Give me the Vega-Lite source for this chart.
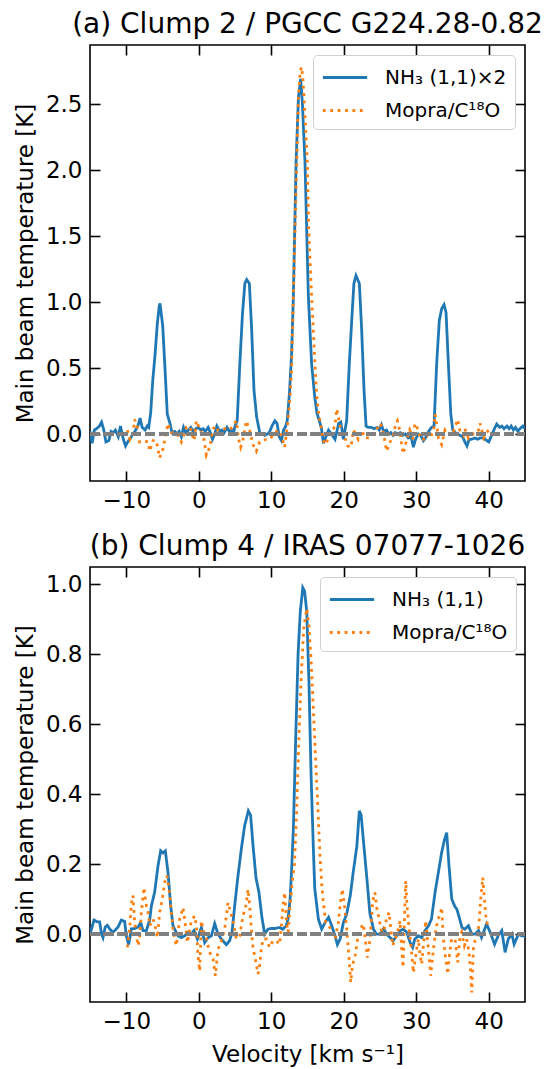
{
"$schema": "https://vega.github.io/schema/vega-lite/v6.json",
"background": "white",
"padding": {"left": 13, "top": 10, "right": 0, "bottom": 0},
"config": {
  "font": "DejaVu Sans",
  "view": {"stroke": "black", "strokeWidth": 1.6},
  "axis": {"domain": false, "grid": false, "ticks": true, "tickColor": "black", "tickWidth": 1.6, "tickSize": -10,
           "labelFont": "DejaVu Sans", "labelFontSize": 23, "labelColor": "black", "labelPadding": 18,
           "titleFont": "DejaVu Sans", "titleFontSize": 23, "titleFontWeight": "normal", "titleColor": "black"},
  "title": {"font": "DejaVu Sans", "fontSize": 28, "fontWeight": "normal", "color": "black", "anchor": "middle", "frame": "group", "offset": 5, "baseline": "alphabetic"},
  "legend": {"labelFont": "DejaVu Sans", "labelFontSize": 20, "labelColor": "black", "symbolType": "M-1,0H2.5", "symbolSize": 640, "symbolStrokeWidth": 2.8,
             "labelOffset": 35, "rowPadding": 8, "padding": 8, "strokeColor": "#d0d0d0", "fillColor": "rgba(255,255,255,0.85)", "cornerRadius": 4}
},
"spacing": 19,
"resolve": {"scale": {"x": "independent", "y": "independent", "color": "independent", "strokeDash": "independent"}, "legend": {"color": "independent", "strokeDash": "independent"}},
"vconcat": [
{
  "width": 435, "height": 436,
  "title": "(a) Clump 2 / PGCC G224.28-0.82",
  "data": {"values": [
{"v":-15,"T":0.02,"s":"n"},{"v":-14.7,"T":-0.07,"s":"n"},{"v":-14.4,"T":0.03,"s":"n"},{"v":-14.1,"T":0.04,"s":"n"},{"v":-13.7,"T":0.06,"s":"n"},{"v":-13.4,"T":0.09,"s":"n"},{"v":-13.1,"T":0.03,"s":"n"},{"v":-12.8,"T":-0.06,"s":"n"},{"v":-12.4,"T":-0.05,"s":"n"},{"v":-12.1,"T":0.02,"s":"n"},{"v":-11.8,"T":0.01,"s":"n"},{"v":-11.5,"T":0.03,"s":"n"},{"v":-11.1,"T":-0.02,"s":"n"},{"v":-10.8,"T":0.06,"s":"n"},{"v":-10.4,"T":-0.04,"s":"n"},{"v":-10.1,"T":-0.09,"s":"n"},{"v":-9.8,"T":-0.06,"s":"n"},{"v":-9.4,"T":-0.03,"s":"n"},{"v":-9.1,"T":0.0,"s":"n"},{"v":-8.8,"T":0.02,"s":"n"},{"v":-8.4,"T":0.06,"s":"n"},{"v":-8.1,"T":0.12,"s":"n"},{"v":-7.8,"T":0.05,"s":"n"},{"v":-7.4,"T":0.03,"s":"n"},{"v":-7.1,"T":0.06,"s":"n"},{"v":-6.9,"T":0.05,"s":"n"},{"v":-6.63,"T":0.16,"s":"n"},{"v":-6.35,"T":0.4,"s":"n"},{"v":-6.03,"T":0.6,"s":"n"},{"v":-5.71,"T":0.84,"s":"n"},{"v":-5.45,"T":0.97,"s":"n"},{"v":-5.34,"T":0.99,"s":"n"},{"v":-5.15,"T":0.9,"s":"n"},{"v":-4.97,"T":0.82,"s":"n"},{"v":-4.66,"T":0.5,"s":"n"},{"v":-4.34,"T":0.15,"s":"n"},{"v":-3.97,"T":0.08,"s":"n"},{"v":-3.7,"T":0.01,"s":"n"},{"v":-3.3,"T":0.02,"s":"n"},{"v":-3.0,"T":0.0,"s":"n"},{"v":-2.7,"T":0.02,"s":"n"},{"v":-2.4,"T":-0.02,"s":"n"},{"v":-2.1,"T":0.05,"s":"n"},{"v":-1.8,"T":0.01,"s":"n"},{"v":-1.4,"T":0.03,"s":"n"},{"v":-1.1,"T":0.05,"s":"n"},{"v":-0.8,"T":0.02,"s":"n"},{"v":-0.4,"T":0.04,"s":"n"},{"v":-0.1,"T":0.05,"s":"n"},{"v":0.3,"T":0.03,"s":"n"},{"v":0.6,"T":0.04,"s":"n"},{"v":0.9,"T":0.02,"s":"n"},{"v":1.3,"T":0.05,"s":"n"},{"v":1.6,"T":0.01,"s":"n"},{"v":1.9,"T":-0.04,"s":"n"},{"v":2.2,"T":0.0,"s":"n"},{"v":2.5,"T":0.06,"s":"n"},{"v":2.9,"T":0.02,"s":"n"},{"v":3.2,"T":0.03,"s":"n"},{"v":3.5,"T":0.01,"s":"n"},{"v":3.9,"T":0.05,"s":"n"},{"v":4.2,"T":0.02,"s":"n"},{"v":4.5,"T":0.03,"s":"n"},{"v":4.8,"T":0.01,"s":"n"},{"v":5.0,"T":0.06,"s":"n"},{"v":5.3,"T":0.1,"s":"n"},{"v":5.67,"T":0.535,"s":"n"},{"v":6.03,"T":0.91,"s":"n"},{"v":6.36,"T":1.14,"s":"n"},{"v":6.61,"T":1.17,"s":"n"},{"v":6.98,"T":1.14,"s":"n"},{"v":7.3,"T":0.79,"s":"n"},{"v":7.62,"T":0.33,"s":"n"},{"v":7.98,"T":0.13,"s":"n"},{"v":8.45,"T":0.0,"s":"n"},{"v":8.8,"T":0.0,"s":"n"},{"v":9.1,"T":-0.01,"s":"n"},{"v":9.5,"T":0.0,"s":"n"},{"v":9.8,"T":0.02,"s":"n"},{"v":10.1,"T":0.06,"s":"n"},{"v":10.5,"T":0.1,"s":"n"},{"v":10.8,"T":0.08,"s":"n"},{"v":11.1,"T":-0.02,"s":"n"},{"v":11.4,"T":-0.05,"s":"n"},{"v":11.7,"T":0.03,"s":"n"},{"v":12.0,"T":0.06,"s":"n"},{"v":12.2,"T":0.1,"s":"n"},{"v":12.5,"T":0.3,"s":"n"},{"v":12.8,"T":0.6,"s":"n"},{"v":13.05,"T":1.04,"s":"n"},{"v":13.42,"T":2.05,"s":"n"},{"v":13.75,"T":2.55,"s":"n"},{"v":14.06,"T":2.69,"s":"n"},{"v":14.3,"T":2.5,"s":"n"},{"v":14.66,"T":2.05,"s":"n"},{"v":15.12,"T":1.04,"s":"n"},{"v":15.57,"T":0.53,"s":"n"},{"v":16.0,"T":0.28,"s":"n"},{"v":16.3,"T":0.16,"s":"n"},{"v":16.9,"T":0.05,"s":"n"},{"v":17.2,"T":-0.07,"s":"n"},{"v":17.4,"T":-0.04,"s":"n"},{"v":17.9,"T":0.03,"s":"n"},{"v":18.3,"T":0.0,"s":"n"},{"v":18.8,"T":-0.04,"s":"n"},{"v":19.3,"T":0.08,"s":"n"},{"v":19.6,"T":0.09,"s":"n"},{"v":19.95,"T":-0.04,"s":"n"},{"v":20.4,"T":0.1,"s":"n"},{"v":20.77,"T":0.535,"s":"n"},{"v":21.1,"T":0.86,"s":"n"},{"v":21.4,"T":1.14,"s":"n"},{"v":21.69,"T":1.2,"s":"n"},{"v":22.15,"T":1.14,"s":"n"},{"v":22.47,"T":0.79,"s":"n"},{"v":22.8,"T":0.33,"s":"n"},{"v":23.08,"T":0.06,"s":"n"},{"v":23.4,"T":0.05,"s":"n"},{"v":23.8,"T":0.05,"s":"n"},{"v":24.2,"T":0.04,"s":"n"},{"v":24.6,"T":0.05,"s":"n"},{"v":24.9,"T":0.03,"s":"n"},{"v":25.2,"T":0.07,"s":"n"},{"v":25.5,"T":0.02,"s":"n"},{"v":25.9,"T":0.03,"s":"n"},{"v":26.2,"T":0.0,"s":"n"},{"v":26.5,"T":0.01,"s":"n"},{"v":26.8,"T":-0.01,"s":"n"},{"v":27.1,"T":0.01,"s":"n"},{"v":27.4,"T":0.0,"s":"n"},{"v":27.8,"T":0.01,"s":"n"},{"v":28.1,"T":-0.01,"s":"n"},{"v":28.5,"T":0.0,"s":"n"},{"v":28.9,"T":-0.03,"s":"n"},{"v":29.3,"T":-0.02,"s":"n"},{"v":29.6,"T":-0.1,"s":"n"},{"v":29.9,"T":-0.04,"s":"n"},{"v":30.3,"T":0.0,"s":"n"},{"v":30.6,"T":-0.01,"s":"n"},{"v":31.0,"T":-0.05,"s":"n"},{"v":31.4,"T":-0.02,"s":"n"},{"v":31.7,"T":0.02,"s":"n"},{"v":32.1,"T":0.05,"s":"n"},{"v":32.45,"T":0.06,"s":"n"},{"v":32.82,"T":0.535,"s":"n"},{"v":33.18,"T":0.86,"s":"n"},{"v":33.51,"T":0.95,"s":"n"},{"v":33.83,"T":0.98,"s":"n"},{"v":34.11,"T":0.92,"s":"n"},{"v":34.43,"T":0.535,"s":"n"},{"v":34.76,"T":0.156,"s":"n"},{"v":35.03,"T":0.03,"s":"n"},{"v":35.4,"T":0.01,"s":"n"},{"v":35.7,"T":0.0,"s":"n"},{"v":36.0,"T":-0.01,"s":"n"},{"v":36.4,"T":-0.02,"s":"n"},{"v":36.7,"T":-0.06,"s":"n"},{"v":37.0,"T":-0.09,"s":"n"},{"v":37.3,"T":-0.04,"s":"n"},{"v":37.6,"T":-0.04,"s":"n"},{"v":38.1,"T":-0.03,"s":"n"},{"v":38.5,"T":-0.04,"s":"n"},{"v":38.8,"T":-0.03,"s":"n"},{"v":39.2,"T":-0.03,"s":"n"},{"v":39.5,"T":-0.04,"s":"n"},{"v":40.0,"T":-0.06,"s":"n"},{"v":40.4,"T":-0.01,"s":"n"},{"v":40.7,"T":0.03,"s":"n"},{"v":41.1,"T":0.075,"s":"n"},{"v":41.5,"T":0.05,"s":"n"},{"v":41.8,"T":0.06,"s":"n"},{"v":42.1,"T":0.04,"s":"n"},{"v":42.5,"T":0.06,"s":"n"},{"v":42.8,"T":0.04,"s":"n"},{"v":43.1,"T":0.06,"s":"n"},{"v":43.4,"T":0.03,"s":"n"},{"v":43.7,"T":0.05,"s":"n"},{"v":44.0,"T":0.02,"s":"n"},{"v":44.3,"T":0.04,"s":"n"},{"v":44.7,"T":0.06,"s":"n"},{"v":45.0,"T":0.04,"s":"n"},
{"v":-9.85,"T":0.03,"s":"m"},{"v":-9.5,"T":-0.04,"s":"m"},{"v":-9.07,"T":0.0,"s":"m"},{"v":-8.84,"T":0.11,"s":"m"},{"v":-8.47,"T":0.05,"s":"m"},{"v":-8.15,"T":-0.06,"s":"m"},{"v":-7.69,"T":-0.05,"s":"m"},{"v":-7.0,"T":-0.06,"s":"m"},{"v":-6.77,"T":-0.13,"s":"m"},{"v":-6.31,"T":-0.05,"s":"m"},{"v":-5.85,"T":-0.05,"s":"m"},{"v":-5.39,"T":-0.18,"s":"m"},{"v":-4.93,"T":-0.11,"s":"m"},{"v":-4.24,"T":0.08,"s":"m"},{"v":-3.78,"T":0.01,"s":"m"},{"v":-3.09,"T":0.01,"s":"m"},{"v":-2.4,"T":-0.06,"s":"m"},{"v":-1.71,"T":0.05,"s":"m"},{"v":-1.25,"T":0.06,"s":"m"},{"v":-0.65,"T":-0.05,"s":"m"},{"v":-0.33,"T":0.1,"s":"m"},{"v":0.13,"T":0.04,"s":"m"},{"v":0.72,"T":-0.04,"s":"m"},{"v":1.05,"T":-0.16,"s":"m"},{"v":1.51,"T":-0.1,"s":"m"},{"v":1.97,"T":0.04,"s":"m"},{"v":2.43,"T":0.06,"s":"m"},{"v":2.89,"T":-0.01,"s":"m"},{"v":3.35,"T":0.04,"s":"m"},{"v":3.8,"T":0.04,"s":"m"},{"v":4.26,"T":0.03,"s":"m"},{"v":4.72,"T":0.06,"s":"m"},{"v":5.18,"T":0.1,"s":"m"},{"v":5.5,"T":-0.04,"s":"m"},{"v":5.78,"T":-0.1,"s":"m"},{"v":6.1,"T":-0.04,"s":"m"},{"v":6.56,"T":0.1,"s":"m"},{"v":7.02,"T":0.03,"s":"m"},{"v":7.48,"T":-0.08,"s":"m"},{"v":7.94,"T":-0.13,"s":"m"},{"v":8.4,"T":-0.06,"s":"m"},{"v":8.86,"T":-0.05,"s":"m"},{"v":9.32,"T":-0.04,"s":"m"},{"v":9.78,"T":-0.04,"s":"m"},{"v":10.24,"T":-0.01,"s":"m"},{"v":10.93,"T":0.03,"s":"m"},{"v":11.39,"T":-0.01,"s":"m"},{"v":11.85,"T":-0.1,"s":"m"},{"v":12.31,"T":0.1,"s":"m"},{"v":12.59,"T":0.28,"s":"m"},{"v":12.82,"T":0.53,"s":"m"},{"v":13.05,"T":1.04,"s":"m"},{"v":13.28,"T":1.545,"s":"m"},{"v":13.51,"T":2.05,"s":"m"},{"v":13.74,"T":2.555,"s":"m"},{"v":14.0,"T":2.75,"s":"m"},{"v":14.2,"T":2.78,"s":"m"},{"v":14.35,"T":2.7,"s":"m"},{"v":14.52,"T":2.55,"s":"m"},{"v":14.98,"T":2.05,"s":"m"},{"v":15.16,"T":1.55,"s":"m"},{"v":15.57,"T":1.04,"s":"m"},{"v":15.8,"T":0.79,"s":"m"},{"v":16.03,"T":0.53,"s":"m"},{"v":16.26,"T":0.3,"s":"m"},{"v":16.49,"T":0.17,"s":"m"},{"v":16.87,"T":0.05,"s":"m"},{"v":17.19,"T":-0.05,"s":"m"},{"v":17.5,"T":-0.08,"s":"m"},{"v":18.1,"T":0.0,"s":"m"},{"v":18.8,"T":0.06,"s":"m"},{"v":19.03,"T":0.19,"s":"m"},{"v":19.26,"T":0.13,"s":"m"},{"v":19.7,"T":0.0,"s":"m"},{"v":20.18,"T":-0.03,"s":"m"},{"v":20.55,"T":-0.09,"s":"m"},{"v":21.0,"T":-0.1,"s":"m"},{"v":21.33,"T":0.03,"s":"m"},{"v":22.0,"T":-0.04,"s":"m"},{"v":22.5,"T":0.03,"s":"m"},{"v":22.9,"T":-0.03,"s":"m"},{"v":23.6,"T":-0.03,"s":"m"},{"v":24.1,"T":0.0,"s":"m"},{"v":24.5,"T":0.03,"s":"m"},{"v":25.0,"T":0.08,"s":"m"},{"v":25.3,"T":0.05,"s":"m"},{"v":25.7,"T":-0.06,"s":"m"},{"v":25.9,"T":-0.13,"s":"m"},{"v":26.4,"T":-0.06,"s":"m"},{"v":26.8,"T":-0.01,"s":"m"},{"v":27.2,"T":0.08,"s":"m"},{"v":27.4,"T":0.1,"s":"m"},{"v":27.8,"T":0.01,"s":"m"},{"v":28.0,"T":-0.09,"s":"m"},{"v":28.2,"T":-0.15,"s":"m"},{"v":28.7,"T":-0.04,"s":"m"},{"v":29.1,"T":0.03,"s":"m"},{"v":29.6,"T":-0.04,"s":"m"},{"v":29.8,"T":0.08,"s":"m"},{"v":30.3,"T":0.03,"s":"m"},{"v":30.5,"T":-0.03,"s":"m"},{"v":31.0,"T":-0.04,"s":"m"},{"v":31.4,"T":0.0,"s":"m"},{"v":31.9,"T":-0.03,"s":"m"},{"v":32.4,"T":0.03,"s":"m"},{"v":32.6,"T":0.15,"s":"m"},{"v":32.8,"T":0.08,"s":"m"},{"v":33.05,"T":-0.03,"s":"m"},{"v":33.5,"T":-0.08,"s":"m"},{"v":33.97,"T":0.03,"s":"m"},{"v":34.4,"T":0.0,"s":"m"},{"v":34.9,"T":-0.01,"s":"m"},{"v":35.35,"T":0.05,"s":"m"},{"v":35.7,"T":0.11,"s":"m"},{"v":36.0,"T":0.03,"s":"m"},{"v":36.5,"T":-0.01,"s":"m"},{"v":36.7,"T":0.04,"s":"m"},{"v":37.2,"T":-0.03,"s":"m"},{"v":37.65,"T":0.0,"s":"m"},{"v":38.1,"T":0.0,"s":"m"},{"v":38.6,"T":0.03,"s":"m"},{"v":38.8,"T":0.08,"s":"m"},{"v":39.3,"T":-0.03,"s":"m"},{"v":39.7,"T":0.01,"s":"m"},{"v":40.0,"T":0.03,"s":"m"}
  ]},
  "layer": [
    {"mark": {"type": "line", "strokeWidth": 2.8, "clip": true},
     "encoding": {
       "x": {"field": "v", "type": "quantitative", "scale": {"domain": [-15, 45], "nice": false, "zero": false}, "axis": {"orient": "bottom", "values": [-10, 0, 10, 20, 30, 40], "title": null}},
       "y": {"field": "T", "type": "quantitative", "scale": {"domain": [-0.356, 2.947], "nice": false, "zero": false}, "axis": {"orient": "left", "values": [0, 0.5, 1, 1.5, 2, 2.5], "format": ".1f", "title": "Main beam temperature [K]", "titlePadding": 8}},
       "color": {"field": "s", "type": "nominal", "scale": {"domain": ["n", "m"], "range": ["#1f77b4", "#ff7f0e"]},
                 "legend": {"orient": "none", "legendX": 223, "legendY": 10, "title": null, "labelExpr": "datum.value == 'n' ? 'NH₃ (1,1)×2' : 'Mopra/C¹⁸O'"}},
       "strokeDash": {"field": "s", "type": "nominal", "scale": {"domain": ["n", "m"], "range": [[1, 0], [2.8, 4.6]]},
                 "legend": {"orient": "none", "legendX": 223, "legendY": 10, "title": null, "labelExpr": "datum.value == 'n' ? 'NH₃ (1,1)×2' : 'Mopra/C¹⁸O'"}}
     }},
    {"mark": {"type": "rule", "color": "#808080", "strokeWidth": 2.6, "strokeDash": [9.6, 4.2]},
     "encoding": {
       "x": {"datum": -15, "type": "quantitative", "axis": {"orient": "top", "labels": false, "title": null, "values": [-10, 0, 10, 20, 30, 40]}},
       "x2": {"datum": 45},
       "y": {"datum": 0, "type": "quantitative", "axis": {"orient": "right", "labels": false, "title": null, "values": [0, 0.5, 1, 1.5, 2, 2.5]}}
     }}
  ],
  "resolve": {"axis": {"x": "independent", "y": "independent"}}
},
{
  "width": 435, "height": 435,
  "title": "(b) Clump 4 / IRAS 07077-1026",
  "data": {"values": [
{"v":-15,"T":0.0,"s":"n"},{"v":-14.8,"T":0.014,"s":"n"},{"v":-14.45,"T":0.04,"s":"n"},{"v":-14.0,"T":0.035,"s":"n"},{"v":-13.67,"T":0.035,"s":"n"},{"v":-13.4,"T":0.0,"s":"n"},{"v":-13.21,"T":-0.01,"s":"n"},{"v":-12.9,"T":0.02,"s":"n"},{"v":-12.6,"T":0.025,"s":"n"},{"v":-12.29,"T":0.015,"s":"n"},{"v":-11.83,"T":0.005,"s":"n"},{"v":-11.14,"T":0.02,"s":"n"},{"v":-10.68,"T":0.04,"s":"n"},{"v":-10.22,"T":0.036,"s":"n"},{"v":-9.99,"T":-0.005,"s":"n"},{"v":-9.67,"T":-0.03,"s":"n"},{"v":-9.3,"T":0.015,"s":"n"},{"v":-8.84,"T":0.016,"s":"n"},{"v":-8.38,"T":0.02,"s":"n"},{"v":-8.01,"T":0.033,"s":"n"},{"v":-7.69,"T":0.01,"s":"n"},{"v":-7.23,"T":0.01,"s":"n"},{"v":-6.77,"T":0.04,"s":"n"},{"v":-6.54,"T":0.08,"s":"n"},{"v":-6.08,"T":0.12,"s":"n"},{"v":-5.62,"T":0.195,"s":"n"},{"v":-5.25,"T":0.238,"s":"n"},{"v":-4.93,"T":0.232,"s":"n"},{"v":-4.61,"T":0.238,"s":"n"},{"v":-4.24,"T":0.176,"s":"n"},{"v":-3.87,"T":0.08,"s":"n"},{"v":-3.55,"T":0.024,"s":"n"},{"v":-3.23,"T":0.01,"s":"n"},{"v":-2.86,"T":-0.005,"s":"n"},{"v":-2.4,"T":-0.01,"s":"n"},{"v":-1.94,"T":-0.005,"s":"n"},{"v":-1.48,"T":0.005,"s":"n"},{"v":-1.03,"T":0.0,"s":"n"},{"v":-0.66,"T":0.01,"s":"n"},{"v":-0.19,"T":-0.014,"s":"n"},{"v":0.36,"T":0.019,"s":"n"},{"v":0.82,"T":-0.024,"s":"n"},{"v":1.28,"T":-0.01,"s":"n"},{"v":1.74,"T":-0.005,"s":"n"},{"v":2.2,"T":0.03,"s":"n"},{"v":2.66,"T":0.0,"s":"n"},{"v":3.11,"T":-0.014,"s":"n"},{"v":3.8,"T":-0.03,"s":"n"},{"v":4.26,"T":-0.019,"s":"n"},{"v":4.59,"T":0.005,"s":"n"},{"v":4.95,"T":0.08,"s":"n"},{"v":5.41,"T":0.166,"s":"n"},{"v":5.87,"T":0.243,"s":"n"},{"v":6.33,"T":0.31,"s":"n"},{"v":6.84,"T":0.352,"s":"n"},{"v":7.15,"T":0.34,"s":"n"},{"v":7.5,"T":0.25,"s":"n"},{"v":7.9,"T":0.16,"s":"n"},{"v":8.3,"T":0.12,"s":"n"},{"v":8.7,"T":0.05,"s":"n"},{"v":9.09,"T":0.0,"s":"n"},{"v":9.55,"T":0.014,"s":"n"},{"v":10.0,"T":0.016,"s":"n"},{"v":10.47,"T":0.016,"s":"n"},{"v":11.16,"T":0.019,"s":"n"},{"v":11.6,"T":0.014,"s":"n"},{"v":12.08,"T":0.024,"s":"n"},{"v":12.31,"T":0.043,"s":"n"},{"v":12.6,"T":0.1,"s":"n"},{"v":12.8,"T":0.18,"s":"n"},{"v":13.05,"T":0.3,"s":"n"},{"v":13.4,"T":0.58,"s":"n"},{"v":13.7,"T":0.8,"s":"n"},{"v":14.0,"T":0.92,"s":"n"},{"v":14.35,"T":0.99,"s":"n"},{"v":14.6,"T":0.98,"s":"n"},{"v":14.9,"T":0.92,"s":"n"},{"v":15.2,"T":0.72,"s":"n"},{"v":15.5,"T":0.45,"s":"n"},{"v":15.8,"T":0.25,"s":"n"},{"v":16.0,"T":0.13,"s":"n"},{"v":16.5,"T":0.043,"s":"n"},{"v":16.96,"T":0.014,"s":"n"},{"v":17.42,"T":0.033,"s":"n"},{"v":17.9,"T":0.048,"s":"n"},{"v":18.34,"T":0.024,"s":"n"},{"v":18.8,"T":-0.005,"s":"n"},{"v":19.12,"T":-0.03,"s":"n"},{"v":19.5,"T":-0.014,"s":"n"},{"v":19.95,"T":0.033,"s":"n"},{"v":20.4,"T":0.057,"s":"n"},{"v":20.9,"T":0.11,"s":"n"},{"v":21.3,"T":0.176,"s":"n"},{"v":21.8,"T":0.25,"s":"n"},{"v":22.15,"T":0.352,"s":"n"},{"v":22.4,"T":0.34,"s":"n"},{"v":22.7,"T":0.27,"s":"n"},{"v":23.2,"T":0.157,"s":"n"},{"v":23.6,"T":0.06,"s":"n"},{"v":24.1,"T":0.014,"s":"n"},{"v":24.5,"T":0.0,"s":"n"},{"v":25.0,"T":0.0,"s":"n"},{"v":25.5,"T":0.016,"s":"n"},{"v":25.9,"T":0.0,"s":"n"},{"v":26.4,"T":-0.01,"s":"n"},{"v":26.8,"T":-0.019,"s":"n"},{"v":27.3,"T":-0.005,"s":"n"},{"v":27.8,"T":0.01,"s":"n"},{"v":28.2,"T":0.014,"s":"n"},{"v":28.7,"T":0.005,"s":"n"},{"v":29.15,"T":-0.024,"s":"n"},{"v":29.5,"T":-0.038,"s":"n"},{"v":29.8,"T":-0.014,"s":"n"},{"v":30.3,"T":-0.005,"s":"n"},{"v":30.75,"T":-0.01,"s":"n"},{"v":31.2,"T":0.01,"s":"n"},{"v":31.7,"T":0.024,"s":"n"},{"v":32.1,"T":0.043,"s":"n"},{"v":32.6,"T":0.12,"s":"n"},{"v":33.05,"T":0.176,"s":"n"},{"v":33.5,"T":0.233,"s":"n"},{"v":33.9,"T":0.27,"s":"n"},{"v":34.2,"T":0.29,"s":"n"},{"v":34.5,"T":0.2,"s":"n"},{"v":34.9,"T":0.1,"s":"n"},{"v":35.3,"T":0.08,"s":"n"},{"v":35.6,"T":0.071,"s":"n"},{"v":35.9,"T":0.05,"s":"n"},{"v":36.3,"T":0.019,"s":"n"},{"v":36.7,"T":0.014,"s":"n"},{"v":37.2,"T":0.024,"s":"n"},{"v":37.65,"T":0.0,"s":"n"},{"v":38.1,"T":0.0,"s":"n"},{"v":38.6,"T":0.01,"s":"n"},{"v":39.0,"T":-0.01,"s":"n"},{"v":39.7,"T":0.029,"s":"n"},{"v":40.2,"T":0.005,"s":"n"},{"v":40.8,"T":-0.029,"s":"n"},{"v":41.3,"T":-0.005,"s":"n"},{"v":41.8,"T":0.01,"s":"n"},{"v":42.25,"T":-0.052,"s":"n"},{"v":42.7,"T":-0.014,"s":"n"},{"v":43.2,"T":0.0,"s":"n"},{"v":43.5,"T":-0.029,"s":"n"},{"v":44.1,"T":0.0,"s":"n"},{"v":44.5,"T":-0.005,"s":"n"},{"v":45.0,"T":-0.005,"s":"n"},
{"v":-9.85,"T":-0.038,"s":"m"},{"v":-9.53,"T":0.014,"s":"m"},{"v":-9.3,"T":0.086,"s":"m"},{"v":-9.07,"T":0.11,"s":"m"},{"v":-8.84,"T":0.033,"s":"m"},{"v":-8.38,"T":-0.033,"s":"m"},{"v":-8.15,"T":-0.014,"s":"m"},{"v":-7.92,"T":0.062,"s":"m"},{"v":-7.55,"T":0.133,"s":"m"},{"v":-7.23,"T":0.081,"s":"m"},{"v":-7.0,"T":0.062,"s":"m"},{"v":-6.77,"T":0.024,"s":"m"},{"v":-6.31,"T":0.043,"s":"m"},{"v":-6.08,"T":0.029,"s":"m"},{"v":-5.71,"T":-0.01,"s":"m"},{"v":-5.39,"T":0.062,"s":"m"},{"v":-5.07,"T":0.095,"s":"m"},{"v":-4.7,"T":0.148,"s":"m"},{"v":-4.38,"T":0.167,"s":"m"},{"v":-4.01,"T":0.114,"s":"m"},{"v":-3.78,"T":0.062,"s":"m"},{"v":-3.55,"T":0.014,"s":"m"},{"v":-3.32,"T":-0.014,"s":"m"},{"v":-3.09,"T":-0.033,"s":"m"},{"v":-2.63,"T":0.043,"s":"m"},{"v":-2.17,"T":0.076,"s":"m"},{"v":-1.94,"T":0.043,"s":"m"},{"v":-1.57,"T":-0.024,"s":"m"},{"v":-1.25,"T":0.014,"s":"m"},{"v":-1.02,"T":0.038,"s":"m"},{"v":-0.56,"T":0.052,"s":"m"},{"v":-0.33,"T":0.024,"s":"m"},{"v":-0.1,"T":-0.062,"s":"m"},{"v":0.13,"T":-0.105,"s":"m"},{"v":0.36,"T":0.038,"s":"m"},{"v":0.59,"T":0.014,"s":"m"},{"v":1.05,"T":-0.014,"s":"m"},{"v":1.51,"T":-0.052,"s":"m"},{"v":1.97,"T":-0.071,"s":"m"},{"v":2.29,"T":-0.119,"s":"m"},{"v":2.66,"T":-0.043,"s":"m"},{"v":3.12,"T":-0.019,"s":"m"},{"v":3.58,"T":0.014,"s":"m"},{"v":4.03,"T":0.09,"s":"m"},{"v":4.4,"T":0.062,"s":"m"},{"v":4.72,"T":0.038,"s":"m"},{"v":5.18,"T":-0.014,"s":"m"},{"v":5.64,"T":-0.005,"s":"m"},{"v":6.1,"T":0.052,"s":"m"},{"v":6.56,"T":0.086,"s":"m"},{"v":6.79,"T":0.128,"s":"m"},{"v":7.02,"T":0.081,"s":"m"},{"v":7.25,"T":0.014,"s":"m"},{"v":7.48,"T":-0.038,"s":"m"},{"v":7.8,"T":-0.071,"s":"m"},{"v":8.17,"T":-0.114,"s":"m"},{"v":8.4,"T":-0.09,"s":"m"},{"v":8.63,"T":-0.043,"s":"m"},{"v":8.86,"T":-0.014,"s":"m"},{"v":9.32,"T":-0.014,"s":"m"},{"v":9.78,"T":-0.038,"s":"m"},{"v":10.24,"T":-0.019,"s":"m"},{"v":10.7,"T":-0.019,"s":"m"},{"v":11.16,"T":-0.029,"s":"m"},{"v":11.48,"T":0.043,"s":"m"},{"v":11.62,"T":0.081,"s":"m"},{"v":11.85,"T":0.119,"s":"m"},{"v":12.08,"T":0.043,"s":"m"},{"v":12.31,"T":-0.005,"s":"m"},{"v":12.54,"T":0.07,"s":"m"},{"v":12.9,"T":0.15,"s":"m"},{"v":13.2,"T":0.2,"s":"m"},{"v":13.5,"T":0.35,"s":"m"},{"v":13.8,"T":0.55,"s":"m"},{"v":14.1,"T":0.72,"s":"m"},{"v":14.5,"T":0.88,"s":"m"},{"v":14.9,"T":0.93,"s":"m"},{"v":15.2,"T":0.88,"s":"m"},{"v":15.5,"T":0.78,"s":"m"},{"v":15.9,"T":0.6,"s":"m"},{"v":16.3,"T":0.42,"s":"m"},{"v":16.73,"T":0.22,"s":"m"},{"v":17.0,"T":0.13,"s":"m"},{"v":17.19,"T":0.09,"s":"m"},{"v":17.51,"T":0.033,"s":"m"},{"v":17.88,"T":0.024,"s":"m"},{"v":18.25,"T":0.014,"s":"m"},{"v":18.8,"T":-0.014,"s":"m"},{"v":19.26,"T":0.033,"s":"m"},{"v":19.49,"T":0.081,"s":"m"},{"v":19.81,"T":0.129,"s":"m"},{"v":20.1,"T":0.081,"s":"m"},{"v":20.41,"T":0.014,"s":"m"},{"v":20.73,"T":-0.067,"s":"m"},{"v":20.96,"T":-0.138,"s":"m"},{"v":21.19,"T":-0.09,"s":"m"},{"v":21.56,"T":-0.062,"s":"m"},{"v":21.92,"T":-0.014,"s":"m"},{"v":22.25,"T":0.014,"s":"m"},{"v":22.7,"T":0.029,"s":"m"},{"v":23.03,"T":-0.024,"s":"m"},{"v":23.26,"T":-0.067,"s":"m"},{"v":23.63,"T":-0.014,"s":"m"},{"v":24.0,"T":0.095,"s":"m"},{"v":24.3,"T":0.119,"s":"m"},{"v":24.55,"T":0.076,"s":"m"},{"v":24.87,"T":0.043,"s":"m"},{"v":25.14,"T":0.014,"s":"m"},{"v":25.46,"T":0.005,"s":"m"},{"v":25.9,"T":0.043,"s":"m"},{"v":26.25,"T":0.062,"s":"m"},{"v":26.5,"T":0.014,"s":"m"},{"v":26.75,"T":-0.033,"s":"m"},{"v":27.07,"T":-0.014,"s":"m"},{"v":27.53,"T":0.014,"s":"m"},{"v":27.76,"T":0.038,"s":"m"},{"v":27.99,"T":-0.043,"s":"m"},{"v":28.18,"T":-0.095,"s":"m"},{"v":28.36,"T":0.033,"s":"m"},{"v":28.54,"T":0.152,"s":"m"},{"v":28.73,"T":0.081,"s":"m"},{"v":29.0,"T":0.019,"s":"m"},{"v":29.28,"T":-0.033,"s":"m"},{"v":29.6,"T":-0.11,"s":"m"},{"v":29.92,"T":-0.062,"s":"m"},{"v":30.29,"T":-0.014,"s":"m"},{"v":30.5,"T":-0.057,"s":"m"},{"v":30.75,"T":-0.086,"s":"m"},{"v":30.98,"T":-0.033,"s":"m"},{"v":31.3,"T":0.038,"s":"m"},{"v":31.67,"T":-0.043,"s":"m"},{"v":31.99,"T":-0.119,"s":"m"},{"v":32.22,"T":-0.071,"s":"m"},{"v":32.59,"T":-0.005,"s":"m"},{"v":32.96,"T":0.043,"s":"m"},{"v":33.28,"T":0.052,"s":"m"},{"v":33.51,"T":0.076,"s":"m"},{"v":33.74,"T":-0.014,"s":"m"},{"v":34.06,"T":-0.071,"s":"m"},{"v":34.34,"T":-0.114,"s":"m"},{"v":34.61,"T":-0.052,"s":"m"},{"v":34.89,"T":-0.014,"s":"m"},{"v":35.35,"T":-0.014,"s":"m"},{"v":35.72,"T":-0.081,"s":"m"},{"v":36.04,"T":-0.005,"s":"m"},{"v":36.27,"T":0.005,"s":"m"},{"v":36.64,"T":-0.033,"s":"m"},{"v":36.96,"T":-0.014,"s":"m"},{"v":37.28,"T":-0.052,"s":"m"},{"v":37.51,"T":-0.11,"s":"m"},{"v":37.65,"T":-0.167,"s":"m"},{"v":37.88,"T":-0.043,"s":"m"},{"v":38.1,"T":-0.019,"s":"m"},{"v":38.48,"T":-0.005,"s":"m"},{"v":38.66,"T":0.033,"s":"m"},{"v":38.89,"T":0.1,"s":"m"},{"v":39.17,"T":0.162,"s":"m"},{"v":39.4,"T":0.1,"s":"m"},{"v":39.6,"T":0.052,"s":"m"},{"v":39.85,"T":0.024,"s":"m"}
  ]},
  "layer": [
    {"mark": {"type": "line", "strokeWidth": 2.8, "clip": true},
     "encoding": {
       "x": {"field": "v", "type": "quantitative", "scale": {"domain": [-15, 45], "nice": false, "zero": false}, "axis": {"orient": "bottom", "values": [-10, 0, 10, 20, 30, 40], "title": "Velocity [km s⁻¹]", "titlePadding": 10}},
       "y": {"field": "T", "type": "quantitative", "scale": {"domain": [-0.194, 1.049], "nice": false, "zero": false}, "axis": {"orient": "left", "values": [0, 0.2, 0.4, 0.6, 0.8, 1.0], "format": ".1f", "title": "Main beam temperature [K]", "titlePadding": 8}},
       "color": {"field": "s", "type": "nominal", "scale": {"domain": ["n", "m"], "range": ["#1f77b4", "#ff7f0e"]},
                 "legend": {"orient": "none", "legendX": 230, "legendY": 10, "title": null, "labelExpr": "datum.value == 'n' ? 'NH₃ (1,1)' : 'Mopra/C¹⁸O'"}},
       "strokeDash": {"field": "s", "type": "nominal", "scale": {"domain": ["n", "m"], "range": [[1, 0], [2.8, 4.6]]},
                 "legend": {"orient": "none", "legendX": 230, "legendY": 10, "title": null, "labelExpr": "datum.value == 'n' ? 'NH₃ (1,1)' : 'Mopra/C¹⁸O'"}}
     }},
    {"mark": {"type": "rule", "color": "#808080", "strokeWidth": 2.6, "strokeDash": [9.6, 4.2]},
     "encoding": {
       "x": {"datum": -15, "type": "quantitative", "axis": {"orient": "top", "labels": false, "title": null, "values": [-10, 0, 10, 20, 30, 40]}},
       "x2": {"datum": 45},
       "y": {"datum": 0, "type": "quantitative", "axis": {"orient": "right", "labels": false, "title": null, "values": [0, 0.2, 0.4, 0.6, 0.8, 1.0]}}
     }}
  ],
  "resolve": {"axis": {"x": "independent", "y": "independent"}}
}
]
}
